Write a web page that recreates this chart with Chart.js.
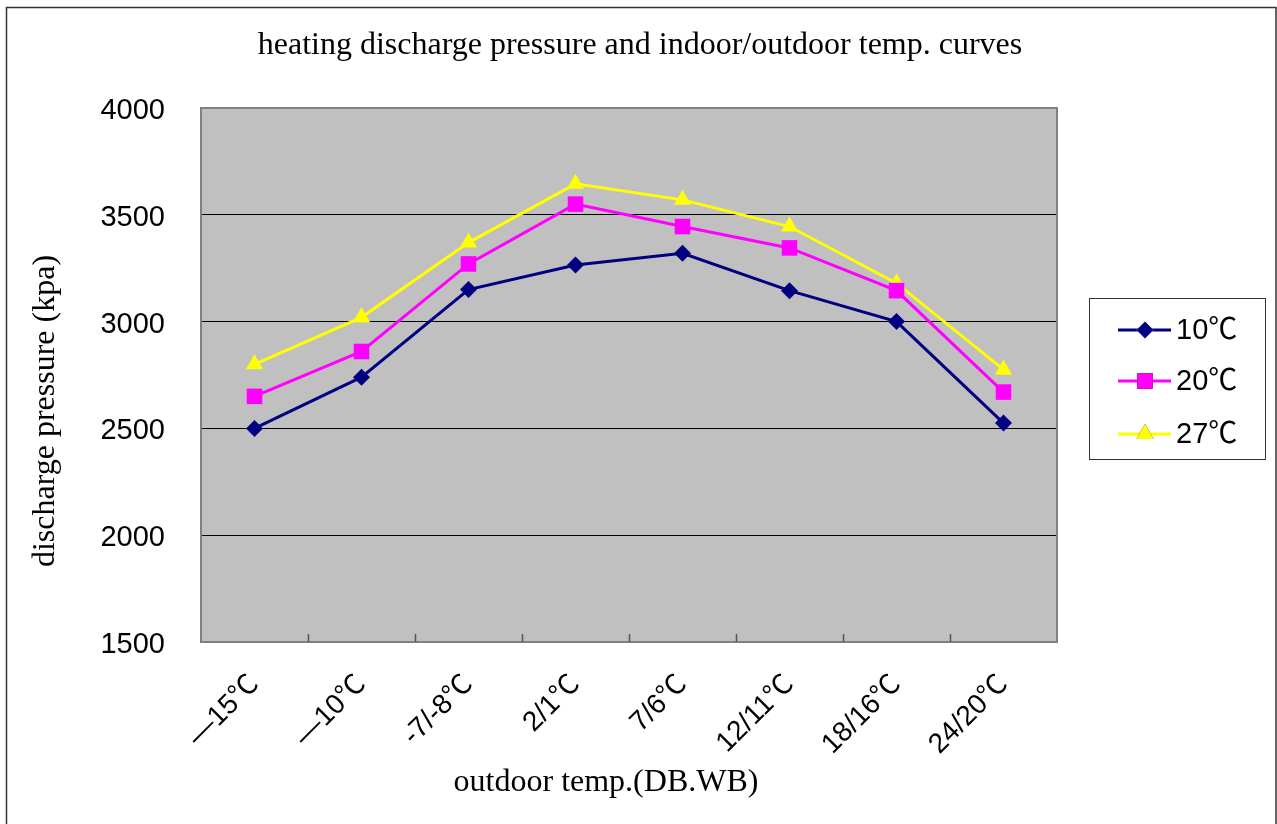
<!DOCTYPE html>
<html lang="en">
<head>
  <meta charset="UTF-8">
  <title>heating discharge pressure</title>
  <script src="https://cdn.jsdelivr.net/npm/chart.js"></script>
  <style>
    html, body { margin: 0; padding: 0; background: #fff; }
    #wrap { width: 1277px; height: 824px; position: relative; }
  </style>
</head>
<body>
<div id="wrap"><canvas id="chart" width="1277" height="824"></canvas></div>
<script>
  // data
  const categories = ['—15℃', '—10℃', '-7/-8℃', '2/1℃', '7/6℃', '12/11℃', '18/16℃', '24/20℃'];
  const indoor10 = [2500, 2740, 3150, 3265, 3320, 3145, 3000, 2525];
  const indoor20 = [2650, 2860, 3270, 3550, 3445, 3345, 3145, 2670];
  const indoor27 = [2800, 3020, 3370, 3645, 3570, 3445, 3180, 2775];
  const seriesNames = ['10℃', '20℃', '27℃'];
  const yTicks = [1500, 2000, 2500, 3000, 3500, 4000];

  const sansFont = '"Liberation Sans", Arial, "Noto Sans CJK SC", sans-serif';
  const serifFont = '"Liberation Serif", "Times New Roman", serif';

  // grey plot area, frame, inner x ticks, outer border, titles and legend
  const decor = {
    id: 'decor',
    beforeDraw(chart) {
      const ctx = chart.ctx;
      const a = chart.chartArea;
      ctx.save();
      ctx.fillStyle = '#fff';
      ctx.fillRect(0, 0, chart.width, chart.height);
      ctx.fillStyle = '#c0c0c0';
      ctx.fillRect(a.left, a.top, a.right - a.left, a.bottom - a.top);
      ctx.restore();
    },
    beforeDatasetsDraw(chart) {
      const ctx = chart.ctx;
      const a = chart.chartArea;
      const x = chart.scales.x;
      ctx.save();
      ctx.strokeStyle = '#808080';
      ctx.lineWidth = 2;
      ctx.strokeRect(a.left, a.top, a.right - a.left, a.bottom - a.top);
      // short ticks between categories, pointing into the plot
      ctx.strokeStyle = '#555';
      ctx.lineWidth = 1.5;
      for (let i = 0; i < categories.length - 1; i++) {
        const px = Math.round((x.getPixelForValue(i) + x.getPixelForValue(i + 1)) / 2) + 0.5;
        ctx.beginPath();
        ctx.moveTo(px, a.bottom);
        ctx.lineTo(px, a.bottom - 8);
        ctx.stroke();
      }
      ctx.restore();
    },
    afterDraw(chart) {
      const ctx = chart.ctx;
      ctx.save();
      // outer frame
      ctx.strokeStyle = '#333';
      ctx.lineWidth = 1.5;
      ctx.beginPath();
      ctx.moveTo(6.5, chart.height + 2);
      ctx.lineTo(6.5, 7.5);
      ctx.lineTo(1276, 7.5);
      ctx.lineTo(1276, chart.height + 2);
      ctx.stroke();

      // titles
      ctx.fillStyle = '#000';
      ctx.font = '32px ' + serifFont;
      ctx.textAlign = 'center';
      ctx.textBaseline = 'middle';
      ctx.fillText('heating discharge pressure and indoor/outdoor temp. curves', 640, 46);
      ctx.fillText('outdoor temp.(DB.WB)', 606, 783);
      ctx.save();
      ctx.translate(46, 411);
      ctx.rotate(-Math.PI / 2);
      ctx.fillText('discharge pressure (kpa)', 0, 0);
      ctx.restore();

      // legend
      const lx = 1089, ly = 298, lw = 176, lh = 161;
      ctx.fillStyle = '#fff';
      ctx.fillRect(lx, ly, lw, lh);
      ctx.strokeStyle = '#333';
      ctx.lineWidth = 1;
      ctx.strokeRect(lx + 0.5, ly + 0.5, lw, lh);
      const rows = [330, 381, 434];
      chart.data.datasets.forEach((ds, i) => {
        const y = rows[i];
        ctx.strokeStyle = ds.borderColor;
        ctx.lineWidth = ds.borderWidth;
        ctx.beginPath();
        ctx.moveTo(1118, y);
        ctx.lineTo(1171, y);
        ctx.stroke();
        Chart.helpers.drawPoint(ctx, {
          pointStyle: ds.pointStyle,
          radius: ds.pointRadius,
          borderWidth: 0,
          rotation: 0
        }, 1145, y);
        ctx.fillStyle = ds.pointBackgroundColor;
        ctx.fill();
        ctx.fillStyle = '#000';
        ctx.font = '29px ' + sansFont;
        ctx.textAlign = 'left';
        ctx.textBaseline = 'middle';
        ctx.fillText(seriesNames[i], 1176, y + 1);
      });
      ctx.restore();
    }
  };

  const ctx = document.getElementById('chart').getContext('2d');
  const chart = new Chart(ctx, {
    type: 'line',
    data: {
      labels: categories,
      datasets: [
        {
          label: seriesNames[0],
          data: indoor10,
          borderColor: '#000080',
          backgroundColor: '#000080',
          pointBackgroundColor: '#000080',
          pointBorderColor: '#000080',
          borderWidth: 3,
          pointStyle: 'rectRot',
          pointRadius: 8.5,
          pointBorderWidth: 0,
          tension: 0
        },
        {
          label: seriesNames[1],
          data: indoor20,
          borderColor: '#ff00ff',
          backgroundColor: '#ff00ff',
          pointBackgroundColor: '#ff00ff',
          pointBorderColor: '#ff00ff',
          borderWidth: 3,
          pointStyle: 'rect',
          pointRadius: 11,
          pointBorderWidth: 0,
          tension: 0
        },
        {
          label: seriesNames[2],
          data: indoor27,
          borderColor: '#ffff00',
          backgroundColor: '#ffff00',
          pointBackgroundColor: '#ffff00',
          pointBorderColor: '#ffff00',
          borderWidth: 3,
          pointStyle: 'triangle',
          pointRadius: 10,
          pointBorderWidth: 0,
          tension: 0
        }
      ]
    },
    plugins: [decor],
    options: {
      responsive: false,
      animation: false,
      layout: { padding: { left: 0, right: 220, top: 108, bottom: 0 } },
      plugins: {
        legend: { display: false },
        title: { display: false },
        tooltip: { enabled: false }
      },
      scales: {
        x: {
          type: 'category',
          offset: true,
          grid: { display: false, drawTicks: false },
          border: { display: false },
          ticks: {
            color: '#000',
            font: { family: sansFont, size: 28 },
            minRotation: 45,
            maxRotation: 45,
            padding: 26,
            autoSkip: false
          },
          afterFit(scale) { scale.height = 182; }
        },
        y: {
          min: 1500,
          max: 4000,
          afterBuildTicks(scale) { scale.ticks = yTicks.map(v => ({ value: v })); },
          grid: {
            color: ctx2 => (ctx2.tick && (ctx2.tick.value === 4000 || ctx2.tick.value === 1500)) ? 'rgba(0,0,0,0)' : '#000',
            lineWidth: 1,
            drawTicks: false
          },
          border: { display: false },
          ticks: {
            color: '#000',
            font: { family: sansFont, size: 29 },
            padding: 36,
            labelOffset: 3,
            callback: v => String(v)
          },
          afterFit(scale) { scale.width = 201; }
        }
      }
    }
  });
</script>
</body>
</html>
